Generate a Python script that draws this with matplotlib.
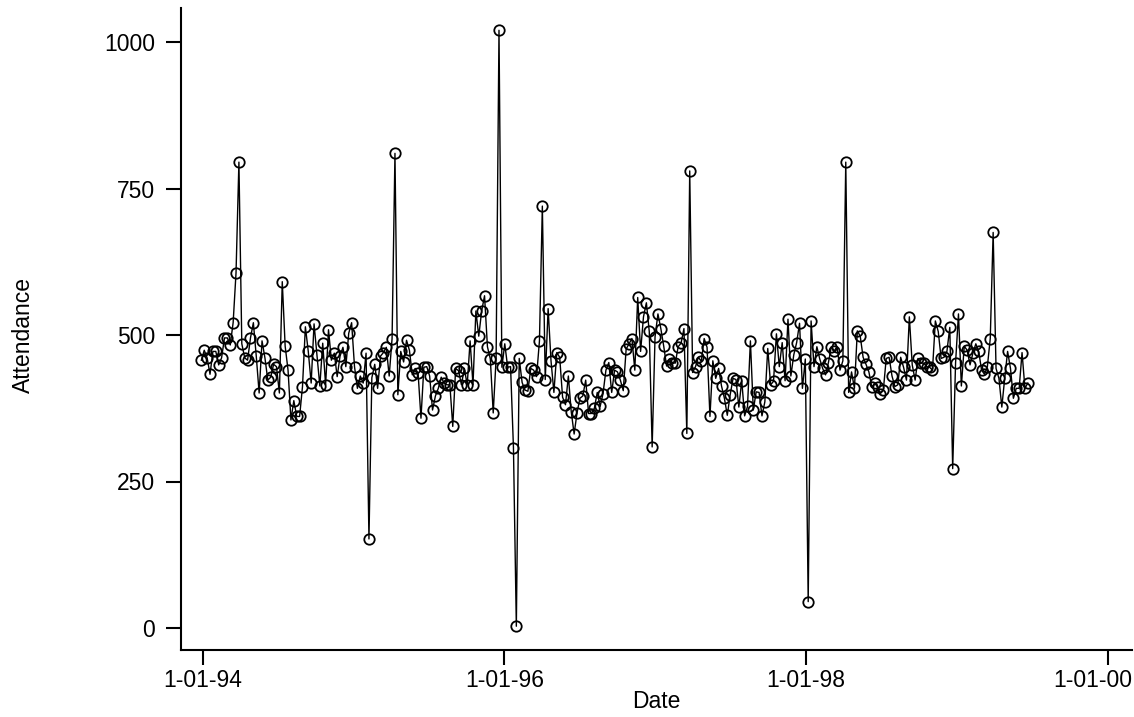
import matplotlib
matplotlib.use("Agg")
import matplotlib.pyplot as plt
import matplotlib.dates as mdates
import matplotlib.transforms as mtransforms
import pandas as pd

# Weekly attendance values, one value per week
attendance = [
    457, 474, 461, 433, 472, 472, 449, 461, 495, 495, 483, 521, 606, 795, 485, 461,
    457, 495, 521, 464, 401, 490, 461, 423, 428, 450, 446, 401, 591, 481, 440, 355,
    388, 361, 361, 412, 514, 472, 418, 519, 466, 413, 486, 415, 509, 457, 469, 429,
    464, 479, 446, 503, 521, 446, 409, 430, 418, 469, 152, 427, 450, 409, 464, 470,
    479, 430, 494, 810, 398, 472, 454, 491, 474, 432, 443, 435, 358, 445, 446, 430,
    372, 396, 409, 428, 418, 415, 415, 344, 443, 439, 415, 443, 415, 490, 415, 541,
    498, 541, 567, 480, 459, 367, 460, 1020, 445, 485, 445, 446, 308, 3, 460, 419,
    406, 404, 443, 440, 429, 490, 720, 424, 545, 456, 402, 470, 462, 394, 381, 430,
    369, 331, 367, 392, 396, 423, 366, 366, 375, 402, 378, 400, 440, 453, 402, 440,
    437, 423, 405, 476, 485, 494, 440, 564, 472, 531, 555, 506, 309, 497, 536, 511,
    481, 447, 459, 453, 452, 480, 486, 511, 332, 780, 436, 446, 462, 455, 494, 479,
    361, 456, 426, 443, 413, 392, 363, 398, 426, 424, 377, 422, 362, 378, 490, 372,
    403, 402, 362, 386, 477, 415, 421, 502, 446, 487, 422, 527, 430, 466, 487, 520,
    409, 459, 45, 524, 446, 480, 459, 443, 432, 453, 480, 473, 480, 440, 456, 795,
    402, 437, 409, 507, 498, 462, 450, 437, 411, 418, 411, 400, 406, 460, 462, 430,
    412, 415, 462, 445, 423, 531, 449, 423, 460, 452, 452, 446, 445, 440, 524, 506,
    460, 462, 472, 513, 272, 453, 536, 413, 481, 474, 449, 469, 485, 472, 440, 433,
    446, 494, 675, 443, 426, 377, 426, 472, 443, 392, 409, 409, 470, 409, 418,
]
dates = pd.date_range("1993-12-28", periods=len(attendance), freq="7D")

x_tick_dates = ["1994-01-01", "1996-01-01", "1998-01-01", "2000-01-01"]
x_tick_labels = ["1-01-94", "1-01-96", "1-01-98", "1-01-00"]
y_ticks = [0, 250, 500, 750, 1000]

plt.rcParams["font.family"] = ["Liberation Sans", "DejaVu Sans"]

fig = plt.figure(figsize=(11.34, 7.17), dpi=100)
W, H = 1134, 717
ax = fig.add_axes([181 / W, 1 - 650 / H, (1132 - 181) / W, (650 - 8) / H])

ax.plot(dates, attendance, color="black", linewidth=1.0,
        marker="o", markersize=7.5, markerfacecolor="none",
        markeredgecolor="black", markeredgewidth=1.3)

t0 = mdates.date2num(pd.Timestamp("1994-01-01"))
t1 = mdates.date2num(pd.Timestamp("2000-01-01"))
pxday = (1107.5 - 203) / (t1 - t0)
ax.set_xlim(t0 - (203 - 181) / pxday, t1 + (1132 - 1107.5) / pxday)
ypx = (628 - 42) / 1000
ax.set_ylim(-(650 - 628) / ypx, 1000 + (42 - 8) / ypx)

ax.set_xticks([mdates.date2num(pd.Timestamp(d)) for d in x_tick_dates])
ax.set_xticklabels(x_tick_labels)
ax.set_yticks(y_ticks)
ax.set_yticklabels([str(v) for v in y_ticks])

for s in ["top", "right"]:
    ax.spines[s].set_visible(False)
for s in ["left", "bottom"]:
    ax.spines[s].set_linewidth(1.5)

ax.tick_params(axis="both", direction="out", length=10.5, width=1.5,
               labelsize=16.5, colors="black")
ax.tick_params(axis="y", pad=8)
ax.tick_params(axis="x", pad=3)

# shift the last x tick label left so it stays inside the figure
last = ax.get_xticklabels()[-1]
last.set_transform(last.get_transform() +
                   mtransforms.ScaledTranslation(-15 / 100, 0, fig.dpi_scale_trans))

ax.set_xlabel("Date", fontsize=16.5, labelpad=-1)
fig.text(23 / W, 1 - 335 / H, "Attendance", rotation=90, ha="center",
         va="center", fontsize=16.5)

fig.savefig("out.png", dpi=100)
